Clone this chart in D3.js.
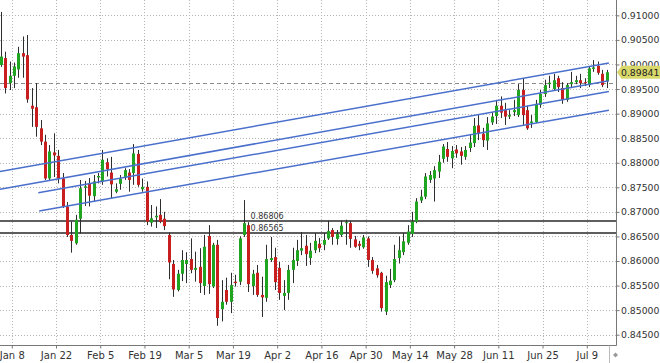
<!DOCTYPE html>
<html>
<head>
<meta charset="utf-8">
<script src="https://cdn.jsdelivr.net/npm/d3@7"></script>
<style>
  body { margin: 0; background: #fff; }
  svg { display: block; font-family: "DejaVu Sans", sans-serif; }
</style>
</head>
<body>
<div class="chart"></div>
<script>
// daily bars
var open = [0.8999,0.9013,0.8962,0.8977,0.8990,0.9023,0.9019,0.8916,0.8913,0.8870,
  0.8843,0.8768,0.8821,0.8814,0.8768,0.8711,0.8653,0.8636,0.8686,0.8749,
  0.8758,0.8732,0.8770,0.8762,0.8801,0.8780,0.8741,0.8757,0.8770,0.8780,
  0.8779,0.8818,0.8746,0.8751,0.8678,0.8689,0.8694,0.8686,0.8653,0.8594,
  0.8541,0.8574,0.8594,0.8604,0.8582,0.8588,0.8549,0.8651,0.8548,0.8633,
  0.8502,0.8541,0.8517,0.8558,0.8558,0.8653,0.8673,0.8549,0.8576,0.8531,
  0.8525,0.8602,0.8608,0.8586,0.8529,0.8535,0.8582,0.8600,0.8621,0.8631,
  0.8606,0.8622,0.8635,0.8633,0.8646,0.8663,0.8645,0.8653,0.8677,0.8677,
  0.8644,0.8635,0.8628,0.8646,0.8602,0.8585,0.8576,0.8497,0.8551,0.8561,
  0.8606,0.8618,0.8637,0.8655,0.8680,0.8723,0.8731,0.8765,0.8768,0.8782,
  0.8808,0.8828,0.8809,0.8827,0.8823,0.8812,0.8830,0.8840,0.8876,0.8859,
  0.8845,0.8882,0.8895,0.8916,0.8907,0.8894,0.8903,0.8897,0.8948,0.8907,
  0.8881,0.8883,0.8918,0.8940,0.8960,0.8950,0.8972,0.8952,0.8928,0.8960,
  0.8964,0.8968,0.8964,0.8958,0.8991,0.8997,0.8981,0.8966];

var high = [0.9107,0.9026,0.9006,0.9004,0.9036,0.9057,0.9060,0.8952,0.8962,0.8887,
  0.8857,0.8836,0.8860,0.8826,0.8779,0.8720,0.8680,0.8694,0.8765,0.8763,
  0.8769,0.8775,0.8779,0.8826,0.8809,0.8812,0.8758,0.8775,0.8789,0.8787,
  0.8838,0.8826,0.8768,0.8762,0.8714,0.8711,0.8726,0.8700,0.8658,0.8602,
  0.8582,0.8622,0.8618,0.8646,0.8619,0.8626,0.8653,0.8673,0.8637,0.8643,
  0.8561,0.8566,0.8576,0.8572,0.8650,0.8724,0.8679,0.8582,0.8592,0.8568,
  0.8633,0.8649,0.8627,0.8598,0.8561,0.8592,0.8627,0.8643,0.8659,0.8653,
  0.8637,0.8657,0.8647,0.8657,0.8682,0.8667,0.8663,0.8682,0.8684,0.8682,
  0.8651,0.8641,0.8653,0.8650,0.8608,0.8592,0.8578,0.8570,0.8584,0.8633,
  0.8650,0.8657,0.8673,0.8700,0.8728,0.8745,0.8779,0.8783,0.8793,0.8816,
  0.8838,0.8842,0.8834,0.8836,0.8832,0.8834,0.8857,0.8891,0.8897,0.8871,
  0.8893,0.8903,0.8928,0.8935,0.8922,0.8907,0.8928,0.8960,0.8972,0.8916,
  0.8897,0.8928,0.8948,0.8969,0.8977,0.8981,0.8977,0.8964,0.8962,0.8985,
  0.8977,0.8981,0.8972,0.8997,0.9009,0.9006,0.8989,0.8989];

var low = [0.8995,0.8941,0.8948,0.8952,0.8973,0.8973,0.8922,0.8873,0.8853,0.8836,
  0.8765,0.8765,0.8771,0.8758,0.8708,0.8649,0.8617,0.8633,0.8656,0.8712,
  0.8711,0.8721,0.8758,0.8755,0.8772,0.8728,0.8738,0.8745,0.8765,0.8741,
  0.8755,0.8751,0.8741,0.8673,0.8670,0.8667,0.8677,0.8663,0.8563,0.8527,
  0.8538,0.8559,0.8555,0.8575,0.8558,0.8535,0.8531,0.8533,0.8545,0.8468,
  0.8477,0.8511,0.8494,0.8548,0.8551,0.8649,0.8537,0.8531,0.8527,0.8486,
  0.8517,0.8598,0.8541,0.8521,0.8500,0.8521,0.8555,0.8590,0.8612,0.8590,
  0.8592,0.8616,0.8618,0.8622,0.8643,0.8633,0.8633,0.8649,0.8633,0.8627,
  0.8627,0.8622,0.8625,0.8588,0.8574,0.8566,0.8497,0.8490,0.8545,0.8557,
  0.8595,0.8612,0.8633,0.8649,0.8677,0.8718,0.8726,0.8759,0.8721,0.8769,
  0.8800,0.8802,0.8789,0.8810,0.8796,0.8806,0.8822,0.8832,0.8846,0.8832,
  0.8826,0.8877,0.8879,0.8891,0.8877,0.8889,0.8895,0.8893,0.8875,0.8867,
  0.8871,0.8881,0.8912,0.8934,0.8952,0.8948,0.8944,0.8920,0.8924,0.8952,
  0.8960,0.8952,0.8956,0.8954,0.8985,0.8979,0.8954,0.8952];

var close = [0.9016,0.8952,0.8977,0.8996,0.9023,0.9016,0.8929,0.8910,0.8873,0.8843,
  0.8768,0.8823,0.8815,0.8768,0.8711,0.8653,0.8641,0.8684,0.8748,0.8752,
  0.8733,0.8762,0.8773,0.8806,0.8787,0.8756,0.8746,0.8767,0.8785,0.8765,
  0.8819,0.8755,0.8751,0.8680,0.8687,0.8692,0.8680,0.8671,0.8597,0.8542,
  0.8574,0.8602,0.8602,0.8582,0.8586,0.8555,0.8629,0.8553,0.8633,0.8484,
  0.8517,0.8517,0.8551,0.8555,0.8646,0.8677,0.8553,0.8574,0.8531,0.8526,
  0.8604,0.8606,0.8557,0.8535,0.8535,0.8582,0.8602,0.8622,0.8626,0.8614,
  0.8621,0.8641,0.8626,0.8643,0.8661,0.8649,0.8655,0.8672,0.8679,0.8645,
  0.8629,0.8631,0.8648,0.8602,0.8580,0.8571,0.8504,0.8557,0.8560,0.8604,
  0.8622,0.8640,0.8660,0.8680,0.8721,0.8731,0.8772,0.8775,0.8785,0.8802,
  0.8833,0.8812,0.8824,0.8819,0.8814,0.8826,0.8841,0.8875,0.8859,0.8846,
  0.8880,0.8894,0.8916,0.8902,0.8894,0.8897,0.8907,0.8948,0.8897,0.8870,
  0.8884,0.8920,0.8940,0.8958,0.8963,0.8968,0.8954,0.8928,0.8958,0.8964,
  0.8968,0.8962,0.8962,0.8992,0.8994,0.8983,0.8958,0.89841];

// trading days (weekdays) Jan 3 .. Jul 13
var days = d3.timeDays(new Date(2018, 0, 3), new Date(2018, 6, 14))
  .filter(function(d) { return d.getDay() % 6 != 0; });

var xTicks = ['2018-01-08','2018-01-22','2018-02-05','2018-02-19','2018-03-05','2018-03-19','2018-04-02',
  '2018-04-16','2018-04-30','2018-05-14','2018-05-28','2018-06-11','2018-06-25','2018-07-09'];
var yTicks = [0.845,0.85,0.855,0.86,0.865,0.87,0.875,0.88,0.885,0.89,0.895,0.90,0.905,0.91];

var levels = [0.86806, 0.86565];
var dashLevel = 0.8962;
var lastPrice = 0.89841;

// channel lines: [bar index, price] end points
var channel1 = [[-0.16, 0.8782], [137.5, 0.9003]];
var channel2 = [[-0.16, 0.8746], [137.5, 0.8967]];
var channel3 = [[8.5, 0.8739], [137.5, 0.8945]];
var channel4 = [[8.7, 0.8702], [137.5, 0.8907]];

var width = 660, height = 363;
var plotW = 616.5, plotH = 345.5;

var svg = d3.select('.chart').append('svg')
  .attr('width', width)
  .attr('height', height);

var x = d3.scaleBand()
  .domain(days)
  .range([-1.5, 608.9]);
var step = x.step();
var xi = d3.scaleLinear()
  .domain([0, days.length - 1])
  .range([x(days[0]) + step / 2, x(days[days.length - 1]) + step / 2]);

var y = d3.scaleLinear()
  .domain([0.845, 0.91])
  .range([334.7, 15.35]);

svg.append('defs').append('clipPath').attr('id', 'plot')
  .append('rect').attr('x', 0).attr('y', 0).attr('width', plotW).attr('height', plotH);

// grid
var parse = d3.timeParse('%Y-%m-%d');
var tickDays = xTicks.map(parse);

svg.append('g')
  .selectAll('line')
  .data(tickDays)
  .enter().append('line')
  .attr('x1', function(d) { return Math.round(x(d)) + 0.5; })
  .attr('x2', function(d) { return Math.round(x(d)) + 0.5; })
  .attr('y1', 0).attr('y2', plotH)
  .attr('stroke', '#b4b4b4')
  .attr('stroke-dasharray', '1,2');

svg.append('g')
  .selectAll('line')
  .data(yTicks)
  .enter().append('line')
  .attr('x1', 0).attr('x2', plotW)
  .attr('y1', function(d) { return Math.round(y(d)) + 0.5; })
  .attr('y2', function(d) { return Math.round(y(d)) + 0.5; })
  .attr('stroke', '#b4b4b4')
  .attr('stroke-dasharray', '1,2');

var plot = svg.append('g').attr('clip-path', 'url(#plot)');

// dashed price line
plot.append('line')
  .attr('x1', 0).attr('x2', plotW)
  .attr('y1', Math.round(y(dashLevel)) + 0.5)
  .attr('y2', Math.round(y(dashLevel)) + 0.5)
  .attr('stroke', '#8c8c8c')
  .attr('stroke-dasharray', '4,3');

// horizontal levels
plot.selectAll('.level')
  .data(levels)
  .enter().append('line')
  .attr('class', 'level')
  .attr('x1', 0).attr('x2', plotW)
  .attr('y1', function(d) { return Math.round(y(d)); })
  .attr('y2', function(d) { return Math.round(y(d)); })
  .attr('stroke', '#5e5e5e')
  .attr('stroke-width', 2);

plot.selectAll('.level-label')
  .data(levels)
  .enter().append('text')
  .attr('class', 'level-label')
  .attr('x', x(days[57]))
  .attr('y', function(d) { return y(d) - 2.5; })
  .attr('font-size', '8px')
  .attr('fill', '#333')
  .text(function(d) { return d3.format('.5f')(d); });

// candles
var bars = d3.range(days.length);

plot.append('g').selectAll('line')
  .data(bars)
  .enter().append('line')
  .attr('x1', function(i) { return Math.round(xi(i)) + 0.5; })
  .attr('x2', function(i) { return Math.round(xi(i)) + 0.5; })
  .attr('y1', function(i) { return y(high[i]); })
  .attr('y2', function(i) { return y(low[i]); })
  .attr('stroke', '#2e2e2e')
  .attr('stroke-width', 1);

plot.append('g').selectAll('rect')
  .data(bars)
  .enter().append('rect')
  .attr('x', function(i) { return Math.round(xi(i)) - 1; })
  .attr('width', 3)
  .attr('y', function(i) { return y(Math.max(open[i], close[i])); })
  .attr('height', function(i) { return Math.max(1, Math.abs(y(open[i]) - y(close[i]))); })
  .attr('fill', function(i) { return close[i] >= open[i] ? '#20a520' : '#c91e1e'; });

// channel
var line = d3.line()
  .x(function(d) { return xi(d[0]); })
  .y(function(d) { return y(d[1]); });

plot.selectAll('.channel')
  .data([channel1, channel2, channel3, channel4])
  .enter().append('path')
  .attr('class', 'channel')
  .attr('d', line)
  .attr('fill', 'none')
  .attr('stroke', '#4a6fcc')
  .attr('stroke-width', 1.5);

// axes
var yAxis = d3.axisRight(y)
  .tickValues(yTicks)
  .tickFormat(d3.format('.5f'))
  .tickSize(3)
  .tickSizeOuter(0);

var yAxisGroup = svg.append('g')
  .attr('transform', 'translate(' + plotW + ',0)')
  .call(yAxis);

var xAxis = d3.axisBottom(x)
  .tickValues(tickDays)
  .tickFormat(d3.timeFormat('%b %-d'))
  .tickSize(3)
  .tickSizeOuter(0);

var xAxisGroup = svg.append('g')
  .attr('transform', 'translate(' + (0.5 - step / 2) + ',' + plotH + ')')
  .call(xAxis);

[yAxisGroup, xAxisGroup].forEach(function(g) {
  g.select('.domain').remove();
  g.selectAll('line').attr('stroke', '#777');
  g.selectAll('text')
    .attr('fill', '#333')
    .style('font-family', '"DejaVu Sans", sans-serif')
    .style('font-size', '10px');
});
yAxisGroup.selectAll('text').attr('x', 4.5).style('font-size', '9.3px');
xAxisGroup.selectAll('text').attr('y', 6);

svg.append('line')
  .attr('x1', plotW).attr('x2', plotW)
  .attr('y1', 0).attr('y2', plotH)
  .attr('stroke', '#777');
svg.append('line')
  .attr('x1', 0).attr('x2', plotW)
  .attr('y1', plotH).attr('y2', plotH)
  .attr('stroke', '#777');

// chart shift marker
svg.append('line')
  .attr('x1', 609.5).attr('x2', 609.5)
  .attr('y1', plotH).attr('y2', height)
  .attr('stroke', '#bbb');
svg.append('path')
  .attr('d', 'M613,355 l2.5,-2.5 l2.5,2.5 l-2.5,2.5 z')
  .attr('fill', '#999');

// last price tag
var py = y(lastPrice);
svg.append('path')
  .attr('d', 'M' + (plotW + 0.5) + ',' + py + ' L' + (plotW + 5) + ',' + (py - 6.5) + ' L660,' + (py - 6.5) +
    ' L660,' + (py + 6.5) + ' L' + (plotW + 5) + ',' + (py + 6.5) + ' Z')
  .attr('fill', '#d8d86a');
svg.append('text')
  .attr('x', plotW + 4.5)
  .attr('y', py + 3.4)
  .attr('font-size', '9.3px')
  .attr('fill', '#222')
  .text(d3.format('.5f')(lastPrice));
</script>
</body>
</html>
